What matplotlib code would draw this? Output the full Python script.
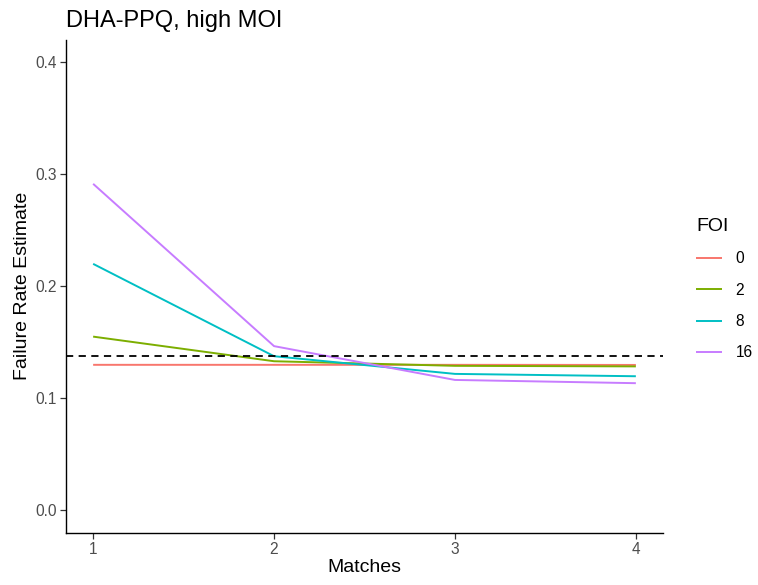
import matplotlib
matplotlib.use("Agg")
import matplotlib.pyplot as plt

plt.rcParams['font.family'] = ['Liberation Sans', 'DejaVu Sans']

matches = [1, 2, 3, 4]
foi_levels = ["0", "2", "8", "16"]
failure_rates = {
    "0":  [0.1298, 0.1298, 0.1298, 0.1297],
    "2":  [0.1550, 0.1330, 0.1289, 0.1284],
    "8":  [0.2200, 0.1375, 0.1217, 0.1196],
    "16": [0.2915, 0.1465, 0.1163, 0.1134],
}
reference_rate = 0.1375
colors = ["#F8766D", "#7CAE00", "#00BFC4", "#C77CFF"]

fig = plt.figure(figsize=(7.58, 5.85), dpi=100)
W, H = 758, 585
ax = fig.add_axes([66 / W, (H - 532.5) / H, (663 - 66) / W, (532.5 - 40) / H])

for lvl, col in zip(foi_levels, colors):
    ax.plot(matches, failure_rates[lvl], color=col, lw=1.4, label=lvl,
            solid_capstyle='butt')

ax.axhline(reference_rate, color='black', lw=1.3, ls=(0, (4, 3)))

ax.set_xlim(0.85, 4.15)
ax.set_ylim(-0.02, 0.42)
ax.set_xticks(matches)
ax.set_yticks([0.0, 0.1, 0.2, 0.3, 0.4])
ax.set_yticklabels(["0.0", "0.1", "0.2", "0.3", "0.4"])

for side in ("top", "right"):
    ax.spines[side].set_visible(False)
for side in ("left", "bottom"):
    ax.spines[side].set_linewidth(1.0)
    ax.spines[side].set_color('black')

ax.tick_params(axis='both', length=4, width=0.9, color='#333333',
               labelsize=11.2, labelcolor='#4D4D4D', pad=2.5)

ax.set_xlabel("Matches", fontsize=14, labelpad=2)
ax.set_ylabel("Failure Rate Estimate", fontsize=14, labelpad=3)
ax.set_title("DHA-PPQ, high MOI", loc='left', fontsize=17, pad=9, x=0.0)

leg = ax.legend(title="FOI", frameon=False, loc='upper left',
                bbox_to_anchor=(682 / W, (H - 204) / H),
                bbox_transform=fig.transFigure,
                fontsize=11.2, title_fontsize=14,
                handlelength=1.7, handletextpad=0.85, labelspacing=1.05)
leg._legend_box.align = "left"

fig.savefig("out.png", dpi=100)
